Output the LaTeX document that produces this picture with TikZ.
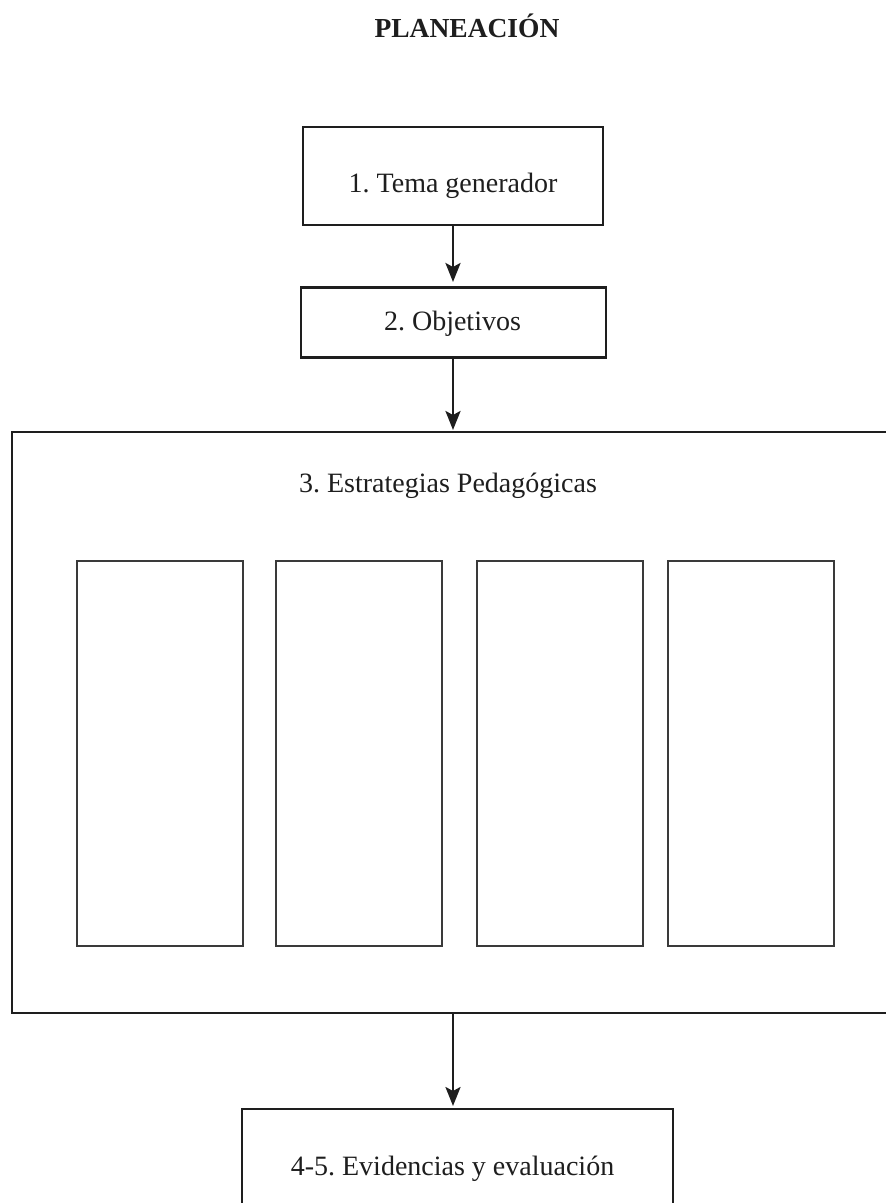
\documentclass[tikz,border=0pt]{standalone}
\usepackage{fontspec}
\setmainfont{Liberation Serif}
\usetikzlibrary{arrows.meta}
\definecolor{ink}{HTML}{1E1E1E}
\definecolor{thin}{HTML}{3A3A3A}
\frenchspacing
\tikzset{
  mainbox/.style={draw=ink, line width=2.6pt, fill=none, inner sep=0pt},
  colbox/.style={draw=thin, line width=1.4pt, inner sep=0pt, minimum width=166pt, minimum height=385pt},
  txt/.style={font=\fontsize{28}{32}\selectfont, text=ink, inner sep=0pt, anchor=base},
  flow/.style={draw=ink, line width=2.6pt, -{Stealth[length=19pt,width=15pt,inset=4pt]}}
}
\begin{document}
\begin{tikzpicture}[x=1pt,y=-1pt]
\useasboundingbox (0,0) rectangle (886,1203);
\clip (0,0) rectangle (886,1203);
\fill[white] (0,0) rectangle (886,1203);
% title
\node[txt, font=\fontsize{27.5}{32}\selectfont\bfseries] (title) at (467,37) {PLANEACIÓN};
% box 1
\node[mainbox, minimum width=300pt, minimum height=98pt] (b1) at (453,176) {};
\node[txt] (t1) at (453,192) {1. Tema generador};
% box 2
\node[mainbox, minimum width=305pt, minimum height=70pt] (b2) at (453.5,322.5) {};
\node[txt] (t2) at (452.5,330) {2. Objetivos};
% big box
\node[mainbox, minimum width=908pt, minimum height=581pt] (b3) at (466,722.5) {};
\node[txt] (t3) at (448,492) {3. Estrategias Pedagógicas};
% columns
\node[colbox] (c1) at (160,753.5) {};
\node[colbox] (c2) at (359,753.5) {};
\node[colbox] (c3) at (560,753.5) {};
\node[colbox] (c4) at (751,753.5) {};
% bottom box
\node[mainbox, minimum width=431pt, minimum height=140pt] (b4) at (457.5,1179) {};
\node[txt] (t4) at (452.5,1175) {4-5. Evidencias y evaluación};
% connectors
\coordinate (a1s) at (453,225);
\coordinate (a1e) at (453,282);
\coordinate (a2s) at (453,357);
\coordinate (a2e) at (453,430);
\coordinate (a3s) at (453,1013);
\coordinate (a3e) at (453,1106);
\draw[flow] (a1s) -- (a1e);
\draw[flow] (a2s) -- (a2e);
\draw[flow] (a3s) -- (a3e);
\end{tikzpicture}
\end{document}
